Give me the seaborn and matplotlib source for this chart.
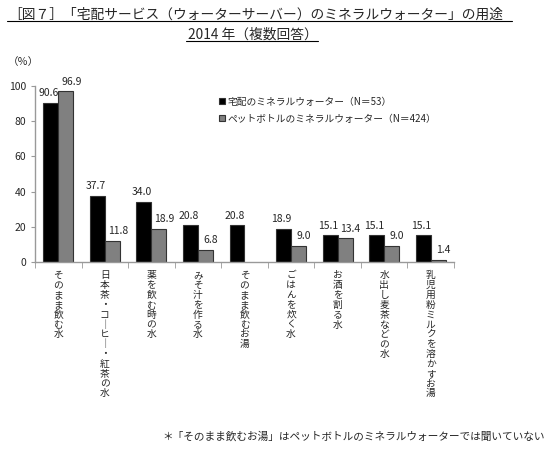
import numpy as np
import pandas as pd
import matplotlib
matplotlib.use("Agg")
import matplotlib.pyplot as plt
from matplotlib.lines import Line2D
import seaborn as sns

# data
categories = ["そのまま飲む水", "日本茶・コーヒー・紅茶の水", "薬を飲む時の水", "みそ汁を作る水",
              "そのまま飲むお湯", "ごはんを炊く水", "お酒を割る水", "水出し麦茶などの水",
              "乳児用粉ミルクを溶かすお湯"]
series_names = ["宅配のミネラルウォーター（N＝53）", "ペットボトルのミネラルウォーター（N＝424）"]
delivery = [90.6, 37.7, 34.0, 20.8, 20.8, 18.9, 15.1, 15.1, 15.1]
bottled = [96.9, 11.8, 18.9, 6.8, np.nan, 9.0, 13.4, 9.0, 1.4]
yticks = [0, 20, 40, 60, 80, 100]

df = pd.DataFrame({
    "cat": categories * 2,
    "series": [series_names[0]] * len(categories) + [series_names[1]] * len(categories),
    "value": delivery + bottled,
})

sns.set_style("white")
plt.rcParams["font.family"] = ["Noto Sans CJK JP", "DejaVu Sans"]

fig = plt.figure(figsize=(5.6, 4.49), dpi=100)
ax = fig.add_axes([35 / 560, 1 - 262 / 449, (454 - 35) / 560, (262 - 86) / 449])

sns.barplot(data=df, x="cat", y="value", hue="series", order=categories,
            hue_order=series_names, palette=["#000000", "#808080"],
            width=0.64, edgecolor="#333333", linewidth=0.8, ax=ax)

# value labels; the gray series' labels sit a little to the right, as in the original
for i, cont in enumerate(ax.containers):
    dx = -1.5 if i == 0 else 4
    for bar in cont:
        h = bar.get_height()
        if np.isnan(h):
            continue
        ax.annotate(f"{h:.1f}", (bar.get_x() + bar.get_width() / 2, h),
                    xytext=(dx, 3.5), textcoords="offset points",
                    ha="center", va="bottom", fontsize=7.5)

ax.set_ylim(0, 100)
ax.set_yticks(yticks)
ax.set_xlim(-0.5, len(categories) - 0.5)
ax.set_xlabel("")
ax.set_ylabel("")
ax.tick_params(axis="y", labelsize=7.5, length=3, color="#999999", direction="out", left=True)
ax.set_xticks(np.arange(len(categories) + 1) - 0.5, minor=True)
ax.tick_params(axis="x", which="minor", length=4, color="#999999", direction="out", bottom=True)
ax.tick_params(axis="x", which="major", length=0, pad=6)
ax.set_xticks(range(len(categories)))
# vertical (stacked) writing for the category labels
vert_labels = ["\n".join(c.replace("ー", "｜")) for c in categories]
ax.set_xticklabels(vert_labels, fontsize=7, va="top", ha="center", linespacing=0.98)
for s in ["top", "right"]:
    ax.spines[s].set_visible(False)
for s in ["left", "bottom"]:
    ax.spines[s].set_color("#999999")
    ax.spines[s].set_linewidth(1)

leg = ax.legend(loc="upper left", bbox_to_anchor=(210 / 560, 1 - 88 / 449),
                bbox_transform=fig.transFigure, frameon=False, fontsize=7,
                handlelength=0.6, handleheight=0.6, handletextpad=0.3, labelspacing=0.7)

# titles with underline
fig.text(256 / 560, 1 - 19 / 449, "［図７］「宅配サービス（ウォーターサーバー）のミネラルウォーター」の用途",
         ha="center", va="baseline", fontsize=9.9)
fig.text(253 / 560, 1 - 39 / 449, "2014 年（複数回答）", ha="center", va="baseline", fontsize=9.9)
fig.add_artist(Line2D([7 / 560, 512 / 560], [1 - 20.5 / 449, 1 - 20.5 / 449], color="black", lw=0.8))
fig.add_artist(Line2D([186 / 560, 318 / 560], [1 - 41 / 449, 1 - 41 / 449], color="black", lw=0.8))

fig.text(23 / 560, 1 - 62 / 449, "（％）", ha="center", va="center", fontsize=7.5)
fig.text(545 / 560, 1 - 436 / 449,
         "＊「そのまま飲むお湯」はペットボトルのミネラルウォーターでは聞いていない",
         ha="right", va="center", fontsize=7.7)

fig.savefig("out.png", dpi=100)
